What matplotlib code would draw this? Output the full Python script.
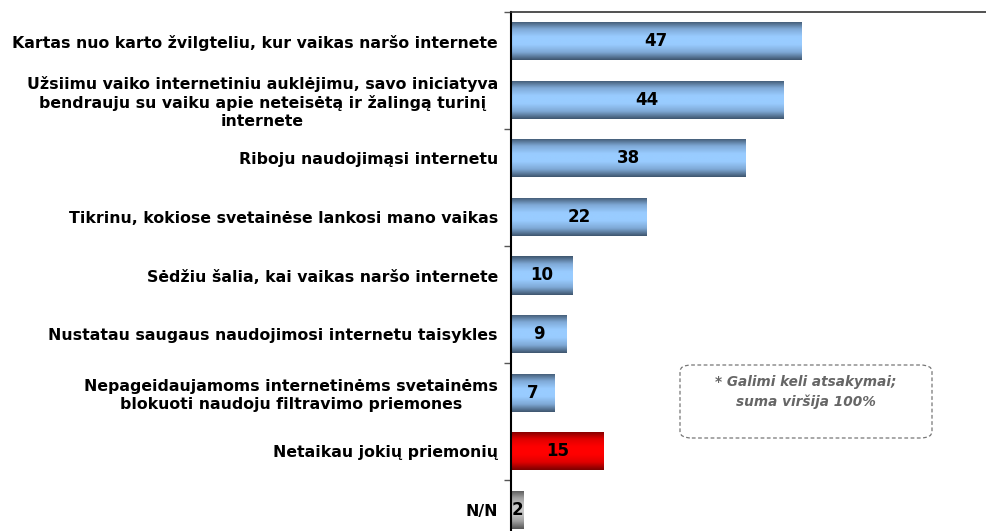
import numpy as np
import matplotlib
matplotlib.use("Agg")
import matplotlib.pyplot as plt
from matplotlib.colors import LinearSegmentedColormap
from matplotlib.patches import FancyBboxPatch

categories = [
    "Kartas nuo karto žvilgteliu, kur vaikas naršo internete",
    "Užsiimu vaiko internetiniu auklėjimu, savo iniciatyva\nbendrauju su vaiku apie neteisėtą ir žalingą turinį\ninternete",
    "Riboju naudojimąsi internetu",
    "Tikrinu, kokiose svetainėse lankosi mano vaikas",
    "Sėdžiu šalia, kai vaikas naršo internete",
    "Nustatau saugaus naudojimosi internetu taisykles",
    "Nepageidaujamoms internetinėms svetainėms\nblokuoti naudoju filtravimo priemones",
    "Netaikau jokių priemonių",
    "N/N",
]
values = [47, 44, 38, 22, 10, 9, 7, 15, 2]
bar_kind = ["blue", "blue", "blue", "blue", "blue", "blue", "blue", "red", "gray"]
note_text = "* Galimi keli atsakymai;\nsuma viršija 100%"

gradients = {
    "blue": ["#3d546c", "#7fa9d6", "#99ccff", "#99ccff", "#7fa9d6", "#3d546c"],
    "red": ["#7a0000", "#e00000", "#ff0000", "#ff0000", "#e00000", "#7a0000"],
    "gray": ["#555555", "#a0a0a0", "#c8c8c8", "#c8c8c8", "#a0a0a0", "#555555"],
}

W, H = 987, 531
fig = plt.figure(figsize=(W / 100, H / 100), dpi=100)
ax_left = 511 / W
ax_right = 1.0
ax_top = 1 - 12 / H
ax_h = 527 / H
ax = fig.add_axes([ax_left, ax_top - ax_h, ax_right - ax_left, ax_h])

n = len(categories)
y = np.arange(n)
bars = ax.barh(y, values, height=0.65, color="none", edgecolor="none", zorder=2)
ax.set_xlim(0, 77)
ax.set_ylim(n - 0.5, -0.5)

grad = np.linspace(0, 1, 256).reshape(-1, 1)
for bar, kind, v in zip(bars, bar_kind, values):
    x0, y0 = bar.get_x(), bar.get_y()
    w, h = bar.get_width(), bar.get_height()
    cmap = LinearSegmentedColormap.from_list(kind, gradients[kind])
    im = ax.imshow(grad, cmap=cmap, aspect="auto",
                   extent=[x0, x0 + w, y0 + h, y0], zorder=2,
                   interpolation="bicubic")
    im.set_clip_path(bar)
    ax.text(x0 + w / 2, y0 + h / 2, str(v), ha="center", va="center",
            fontsize=12, fontweight="bold", color="black", zorder=3)

ax.set_xlim(0, 77)
ax.set_ylim(n - 0.5, -0.5)

ax.set_yticks(y)
ax.set_yticklabels(categories, fontsize=11.3, fontweight="bold",
                   multialignment="center", linespacing=1.25)
ax.tick_params(axis="y", which="major", length=0, pad=9.5)
ax.set_yticks(np.arange(-0.5, n, 2), minor=True)
ax.tick_params(axis="y", which="minor", length=5, width=1.0, color="#555555")
ax.set_xticks([])

for s in ["right", "bottom"]:
    ax.spines[s].set_visible(False)
ax.spines["left"].set_linewidth(1.5)
ax.spines["top"].set_linewidth(1.2)
ax.spines["top"].set_color("#333333")

# note box
bx0, by0, bx1, by1 = 680 / W, 1 - 438 / H, 932 / W, 1 - 365 / H
box = FancyBboxPatch((bx0, by0), bx1 - bx0, by1 - by0,
                     boxstyle="round,pad=0,rounding_size=0.012",
                     transform=fig.transFigure, facecolor="white",
                     edgecolor="#777777", linestyle=(0, (3, 2)), linewidth=0.9)
fig.patches.append(box)
fig.text(806 / W, 1 - 392 / H, note_text, ha="center", va="center",
         fontsize=9.8, fontweight="bold", fontstyle="italic", color="#666666",
         linespacing=1.45)

fig.savefig("out.png", dpi=100)
